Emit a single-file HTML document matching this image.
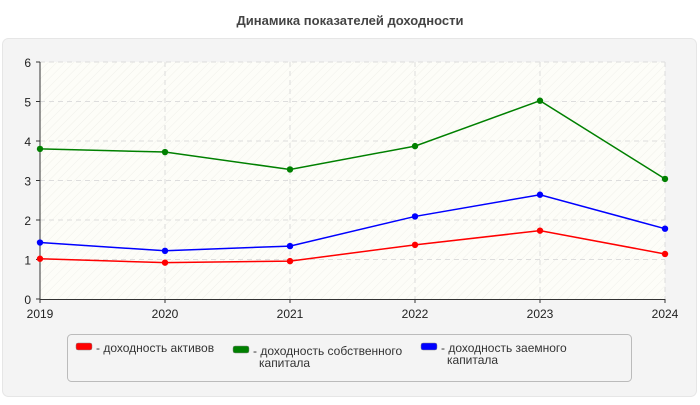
<!DOCTYPE html>
<html><head><meta charset="utf-8"><style>
body{margin:0;width:700px;height:400px;background:#fff;font-family:"Liberation Sans",sans-serif;overflow:hidden}
</style></head><body>
<svg width="700" height="400">
<defs><pattern id="hatch" width="6" height="6" patternUnits="userSpaceOnUse" patternTransform="rotate(45)"><rect width="6" height="6" fill="#fdfdf8"/><line x1="0" y1="0" x2="0" y2="6" stroke="#f0f0ea" stroke-width="1"/></pattern></defs>
<text x="350" y="25" text-anchor="middle" font-size="13" font-weight="bold" fill="#444">Динамика показателей доходности</text>
<rect x="2.5" y="38.5" width="694" height="358" rx="6" fill="#f4f4f4" stroke="#e6e6e6"/>
<rect x="40" y="62" width="625" height="237" fill="url(#hatch)"/>
<g id="grid"></g><g id="axes"></g><g id="series"></g>
<g>
<rect x="67.5" y="334.5" width="564" height="47" rx="4" fill="#f4f4f4" stroke="#bbb"/>
<rect x="76" y="343" width="16" height="7" rx="2" fill="red" stroke="#888" stroke-width="0.5"/>
<text x="96" y="352" font-size="12" fill="#333">- доходность активов</text>
<rect x="233" y="346" width="16" height="7" rx="2" fill="green" stroke="#888" stroke-width="0.5"/>
<text x="253" y="355" font-size="12" fill="#333"><tspan>- доходность собственного</tspan><tspan x="259" dy="12">капитала</tspan></text>
<rect x="421" y="343" width="16" height="7" rx="2" fill="blue" stroke="#888" stroke-width="0.5"/>
<text x="441" y="352" font-size="12" fill="#333"><tspan>- доходность заемного</tspan><tspan x="447" dy="12">капитала</tspan></text>
</g>
</svg>
<script>
const years=['2019','2020','2021','2022','2023','2024'];
const yTicks=[0,1,2,3,4,5,6];
const assets=[1.02,0.92,0.96,1.37,1.73,1.14];
const equity=[3.80,3.72,3.28,3.87,5.02,3.04];
const debt=[1.43,1.22,1.34,2.09,2.64,1.78];
const NS='http://www.w3.org/2000/svg';
const X=i=>40+i*125, Y=v=>299-v*39.5;
function mk(t,a,p){const e=document.createElementNS(NS,t);for(const k in a)e.setAttribute(k,a[k]);p.appendChild(e);return e;}
const grid=document.getElementById('grid'),axes=document.getElementById('axes'),ser=document.getElementById('series');
yTicks.forEach(v=>{
 if(v>0){const l=mk('line',{x1:40,x2:665,y1:Y(v),y2:Y(v),stroke:'#ddd','stroke-dasharray':'5,4'},grid);
 
 }
 const t=mk('text',{x:31,y:Y(v)+5,'text-anchor':'end','font-size':12,fill:'#222'},axes);t.textContent=v;
 
 
 mk('line',{x1:36,x2:40,y1:Y(v),y2:Y(v),stroke:'#333'},axes);
});
years.forEach((y,i)=>{
 if(i>0){const l=mk('line',{x1:X(i),x2:X(i),y1:62,y2:299,stroke:'#ddd','stroke-dasharray':'5,4'},grid);
 
 }
 mk('line',{x1:X(i),x2:X(i),y1:299,y2:303,stroke:'#333'},axes);
 const t=mk('text',{x:X(i),y:318,'text-anchor':'middle','font-size':12,fill:'#222'},axes);t.textContent=y;
 
 
});
const ya=mk('line',{x1:40,x2:40,y1:62,y2:299,stroke:'#333'},axes);


const xa=mk('line',{x1:40,x2:665,y1:299.5,y2:299.5,stroke:'#333'},axes);


[[equity,'green','equity'],[debt,'blue','debt'],[assets,'red','assets']].forEach(([d,c,n])=>{
 const p=mk('polyline',{points:d.map((v,i)=>X(i)+','+Y(v)).join(' '),fill:'none',stroke:c,'stroke-width':1.5},ser);
 
 
 d.forEach((v,i)=>{const m=mk('circle',{cx:X(i),cy:Y(v),r:3.2,fill:c},ser);
 
 });
});
</script>
</body></html>
